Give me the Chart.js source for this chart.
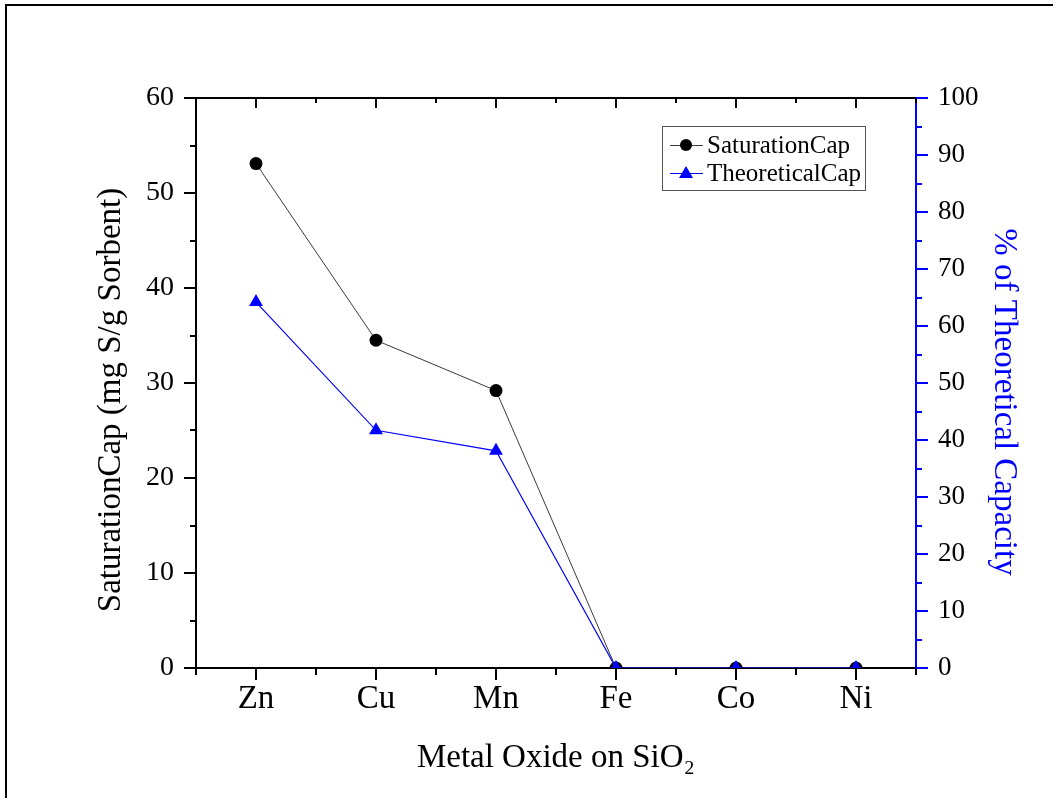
<!DOCTYPE html>
<html>
<head>
<meta charset="utf-8">
<script src="https://cdn.jsdelivr.net/npm/chart.js@4"></script>
<style>
html, body { margin: 0; padding: 0; background: #fff; overflow: hidden; }
#frame { position: absolute; left: 5px; top: 4px; width: 1100px; height: 900px;
         border-top: 2px solid #000; border-left: 2px solid #000; }
canvas { position: absolute; left: 0; top: 0; }
</style>
</head>
<body>
<div id="frame"></div>
<canvas id="myChart" width="1053" height="798"></canvas>
<script>
// data
var metals = ['Zn', 'Cu', 'Mn', 'Fe', 'Co', 'Ni'];
var saturationCap = [53.1, 34.5, 29.2, 0, 0, 0];   // mg S/g sorbent (left axis)
var theoreticalCap = [64.2, 41.7, 38.1, 0, 0, 0];  // % of theoretical (right axis)
var leftRange = [0, 60, 10];
var rightRange = [0, 100, 10];
var leftTitle = 'SaturationCap (mg S/g Sorbent)';
var rightTitle = '% of Theoretical Capacity';

var serif = "'Liberation Serif', 'Times New Roman', serif";
var blue = '#0000ff';
Chart.defaults.font.family = serif;
Chart.defaults.color = '#000';

// tick marks: outward on left/bottom/right, inward on top, minor ones shorter
var tickMarks = {
  id: 'tickMarks',
  afterDatasetsDraw: function(chart) {
    var ctx = chart.ctx, a = chart.chartArea;
    var x = chart.scales.x, y = chart.scales.y, y1 = chart.scales.y1;
    ctx.save();
    ctx.lineWidth = 2;
    ctx.strokeStyle = '#000';
    ctx.beginPath();
    ctx.moveTo(a.left - 1, a.top);
    ctx.lineTo(a.right, a.top);
    for (var i = 0; i < metals.length; i++) {
      var px = Math.round(x.getPixelForValue(i));
      ctx.moveTo(px, a.bottom); ctx.lineTo(px, a.bottom + 12);
      ctx.moveTo(px, a.top); ctx.lineTo(px, a.top + 10);
    }
    for (var j = 0; j <= metals.length; j++) {
      var pb = Math.round(x.getPixelForValue(j - 0.5));
      ctx.moveTo(pb, a.bottom); ctx.lineTo(pb, a.bottom + 7);
      ctx.moveTo(pb, a.top); ctx.lineTo(pb, a.top + 5);
    }
    for (var v = leftRange[0]; v <= leftRange[1]; v += leftRange[2] / 2) {
      var py = Math.round(y.getPixelForValue(v));
      var len = (v % leftRange[2] === 0) ? 12 : 6;
      ctx.moveTo(a.left - len, py); ctx.lineTo(a.left, py);
    }
    ctx.stroke();
    ctx.strokeStyle = blue;
    ctx.beginPath();
    for (var w = rightRange[0]; w <= rightRange[1]; w += rightRange[2] / 2) {
      var qy = Math.round(y1.getPixelForValue(w));
      var l2 = (w % rightRange[2] === 0) ? 12 : 6;
      ctx.moveTo(a.right, qy); ctx.lineTo(a.right + l2, qy);
    }
    ctx.stroke();
    ctx.restore();
  }
};

// the two rotated y titles sit a bit below the middle of the axes in the original
var yTitles = {
  id: 'yTitles',
  afterDraw: function(chart) {
    var ctx = chart.ctx;
    ctx.save();
    ctx.font = '33px ' + serif;
    ctx.textAlign = 'center';
    ctx.textBaseline = 'middle';
    ctx.fillStyle = '#000';
    ctx.translate(111, 400);
    ctx.rotate(-Math.PI / 2);
    ctx.fillText(leftTitle, 0, 0);
    ctx.restore();
    ctx.save();
    ctx.font = '33px ' + serif;
    ctx.textAlign = 'center';
    ctx.textBaseline = 'middle';
    ctx.fillStyle = blue;
    ctx.translate(1004, 402);
    ctx.rotate(Math.PI / 2);
    ctx.fillText(rightTitle, 0, 0);
    ctx.restore();
  }
};

// boxed legend inside the plot, top right
var boxLegend = {
  id: 'boxLegend',
  afterDraw: function(chart) {
    var ctx = chart.ctx;
    var box = { left: 662, top: 126, right: 865, bottom: 190 };
    var rows = [145, 173];
    ctx.save();
    ctx.lineWidth = 1;
    ctx.strokeStyle = '#555';
    ctx.strokeRect(box.left + 0.5, box.top + 0.5, box.right - box.left, box.bottom - box.top);
    chart.data.datasets.forEach(function(ds, k) {
      var ry = rows[k];
      ctx.strokeStyle = ds.borderColor;
      ctx.lineWidth = 1;
      ctx.beginPath();
      ctx.moveTo(670, ry + 0.5); ctx.lineTo(703, ry + 0.5);
      ctx.stroke();
      ctx.fillStyle = ds.pointBackgroundColor;
      ctx.beginPath();
      if (ds.pointStyle === 'circle') {
        ctx.arc(686, ry, 6, 0, Math.PI * 2);
      } else {
        ctx.moveTo(686, ry - 7); ctx.lineTo(693, ry + 5); ctx.lineTo(679, ry + 5); ctx.closePath();
      }
      ctx.fill();
      ctx.fillStyle = '#000';
      ctx.font = '25px ' + serif;
      ctx.textBaseline = 'middle';
      ctx.fillText(ds.label, 707, ry + 1);
    });
    ctx.restore();
  }
};

var ctx = document.getElementById('myChart');
var myChart = new Chart(ctx, {
  type: 'line',
  data: {
    labels: metals,
    datasets: [
      {
        label: 'SaturationCap',
        data: saturationCap,
        yAxisID: 'y',
        borderColor: '#3a3a3a',
        borderWidth: 1,
        pointStyle: 'circle',
        pointRadius: 6.5,
        pointBorderWidth: 0,
        pointBackgroundColor: '#000',
        pointBorderColor: '#000',
        fill: false,
        clip: 0,
        order: 1
      },
      {
        label: 'TheoreticalCap',
        data: theoreticalCap,
        yAxisID: 'y1',
        borderColor: blue,
        borderWidth: 1.2,
        pointStyle: 'triangle',
        pointRadius: 8,
        pointBorderWidth: 0,
        pointBackgroundColor: blue,
        pointBorderColor: blue,
        fill: false,
        clip: 0,
        order: 0
      }
    ]
  },
  options: {
    responsive: false,
    animation: false,
    devicePixelRatio: 1,
    layout: { padding: { top: 98, left: 0, right: 0, bottom: 0 } },
    plugins: { legend: { display: false }, tooltip: { enabled: false } },
    scales: {
      x: {
        type: 'category',
        offset: true,
        afterFit: function(s) { s.height = 130; },
        grid: { display: true, drawOnChartArea: false, drawTicks: false },
        border: { color: '#000', width: 2 },
        ticks: { font: { size: 33 }, padding: 12, color: '#000' },
        title: { display: true, text: 'Metal Oxide on SiO\u2082', font: { size: 33 },
                 padding: { top: 0, bottom: 20 }, color: '#000' }
      },
      y: {
        position: 'left',
        min: leftRange[0], max: leftRange[1],
        afterFit: function(s) { s.width = 196; },
        grid: { display: true, drawOnChartArea: false, drawTicks: false },
        border: { color: '#000', width: 2 },
        ticks: { stepSize: leftRange[2], font: { size: 28 }, padding: 22, color: '#000' }
      },
      y1: {
        position: 'right',
        min: rightRange[0], max: rightRange[1],
        afterFit: function(s) { s.width = 137; },
        grid: { display: true, drawOnChartArea: false, drawTicks: false },
        border: { color: blue, width: 2 },
        ticks: { stepSize: rightRange[2], font: { size: 27 }, padding: 22, color: '#000' }
      }
    }
  },
  plugins: [tickMarks, yTitles, boxLegend]
});
</script>
</body>
</html>
